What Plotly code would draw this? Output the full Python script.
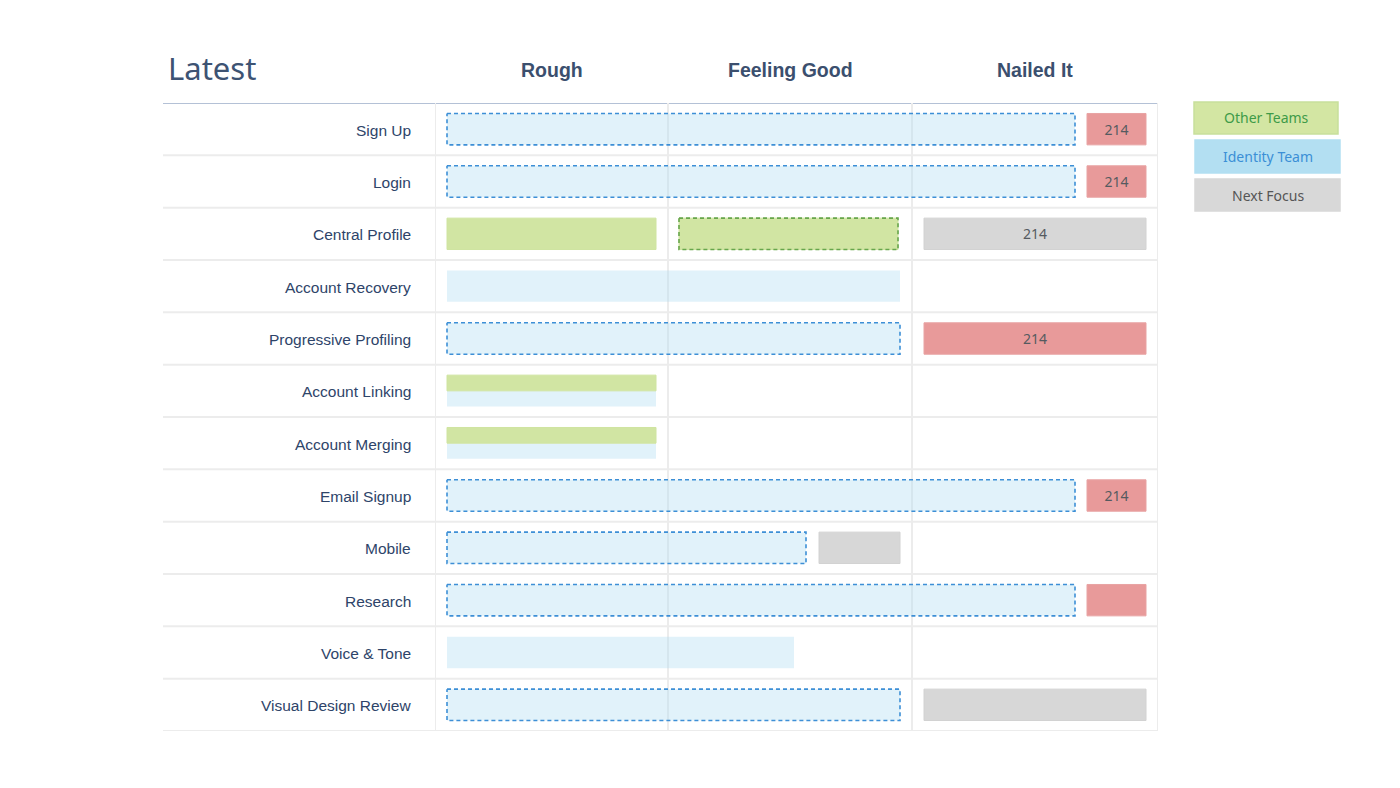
import plotly.graph_objects as go

W, H = 1400, 788

# ---------------- data ----------------
title_text = "Latest"
stages = ["Rough", "Feeling Good", "Nailed It"]
stage_bounds = [0, 233, 477, 723]          # progress scale, column boundaries

rows = ["Sign Up", "Login", "Central Profile", "Account Recovery",
        "Progressive Profiling", "Account Linking", "Account Merging",
        "Email Signup", "Mobile", "Research", "Voice & Tone",
        "Visual Design Review"]

# one entry per bar segment
seg_row    = [0, 0, 1, 1, 2, 2, 2, 3, 4, 4, 5, 5, 6, 6, 7, 7, 8, 8, 9, 9, 10, 11, 11]
seg_start  = [12, 652, 12, 652, 12, 244, 489, 12, 12, 489, 12, 12, 12, 12, 12, 652, 12, 384, 12, 652, 12, 12, 489]
seg_end    = [640, 711, 640, 711, 221, 463, 711, 465, 465, 711, 221, 221, 221, 221, 640, 711, 371, 465, 640, 711, 359, 465, 711]
seg_team   = ["identity", "alert", "identity", "alert", "other", "other", "next", "identity",
              "identity", "alert", "other", "identity", "other", "identity", "identity", "alert",
              "identity", "next", "identity", "alert", "identity", "identity", "next"]
seg_dashed = [True, False, True, False, False, True, False, False, True, False, False, False,
              False, False, True, False, True, False, True, False, False, True, False]
seg_lane   = ["full", "full", "full", "full", "full", "full", "full", "full", "full", "full",
              "top", "bottom", "top", "bottom", "full", "full", "full", "full", "full", "full",
              "full", "full", "full"]
seg_text   = ["", "214", "", "214", "", "", "214", "", "", "214", "", "", "", "", "", "214",
              "", "", "", "", "", "", ""]

legend_labels = ["Other Teams", "Identity Team", "Next Focus"]

# ---------------- styles ----------------
fill = {"identity": "rgba(179,223,242,0.40)", "other": "#d1e5a3",
        "next": "#d7d7d7", "alert": "#e89a9a"}
edge = {"identity": "rgba(0,0,0,0)", "other": "#cfe4a0",
        "next": "#d2d2d2", "alert": "#e8a3a3"}
dash_col = {"identity": "#3d8fd6", "other": "#67a64c"}
legend_fill = ["#d3e6a3", "#b3dff2", "#d8d8d8"]
legend_edge = ["#c8e09c", "#b3dff2", "#d8d8d8"]
legend_font = ["#3e9b48", "#3b8fd6", "#555555"]

# plot geometry (pixels)
px_left, px_right, px_top, px_bot = 435, 1158, 103, 731
label_left = 163

def pxx(p):
    return p / W

def pxy(p):
    return (H - p) / H

FULL_H, HALF_H = 0.6, 0.3

def lane_geom(row, lane):
    c = row + 0.5
    if lane == "top":
        return c - HALF_H / 2, HALF_H
    if lane == "bottom":
        return c + HALF_H / 2, HALF_H
    return c, FULL_H

fig = go.Figure()

# bars
for team in ["identity", "other", "next", "alert"]:
    ys, xs, bases, widths, texts = [], [], [], [], []
    for i in range(len(seg_row)):
        if seg_team[i] != team:
            continue
        yc, hh = lane_geom(seg_row[i], seg_lane[i])
        ys.append(yc)
        bases.append(seg_start[i])
        xs.append(seg_end[i] - seg_start[i])
        widths.append(hh)
        texts.append(seg_text[i])
    fig.add_trace(go.Bar(
        orientation="h", y=ys, x=xs, base=bases, width=widths,
        marker=dict(color=fill[team], line=dict(color=edge[team], width=1)),
        text=texts, textposition="inside", insidetextanchor="middle",
        textangle=0, constraintext="none",
        textfont=dict(family="Noto Sans", size=14, color="#555a60"),
        hoverinfo="skip", showlegend=False))

# dashed outlines
for i in range(len(seg_row)):
    if not seg_dashed[i]:
        continue
    yc, hh = lane_geom(seg_row[i], seg_lane[i])
    t, b = yc - hh / 2, yc + hh / 2
    s, e = seg_start[i], seg_end[i]
    fig.add_trace(go.Scatter(
        x=[s, e, e, s, s], y=[t, t, b, b, t], mode="lines",
        line=dict(color=dash_col[seg_team[i]], width=1.6, dash="4px,3px"),
        hoverinfo="skip", showlegend=False))

shapes = []
# horizontal row lines
for r in range(1, len(rows) + 1):
    shapes.append(dict(type="line", xref="paper", yref="y",
                       x0=pxx(label_left), x1=pxx(px_right), y0=r, y1=r,
                       line=dict(color="#ececec", width=2), layer="below"))
# header line
shapes.append(dict(type="line", xref="paper", yref="y",
                   x0=pxx(label_left), x1=pxx(px_right), y0=0, y1=0,
                   line=dict(color="#b4c1d6", width=2), layer="below"))
# vertical stage lines
for xb in stage_bounds:
    shapes.append(dict(type="line", xref="x", yref="y",
                       x0=xb, x1=xb, y0=0, y1=len(rows),
                       line=dict(color="#ececec", width=2), layer="below"))

annotations = []
annotations.append(dict(text=title_text, xref="paper", yref="paper",
                        x=pxx(166), y=pxy(68), xanchor="left", yanchor="middle",
                        showarrow=False,
                        font=dict(family="Noto Sans", size=31, color="#3d5373")))
for k, st in enumerate(stages):
    annotations.append(dict(text="<b>%s</b>" % st, xref="x", yref="paper",
                            x=(stage_bounds[k] + stage_bounds[k + 1]) / 2,
                            y=pxy(70), xanchor="center", yanchor="middle",
                            showarrow=False,
                            font=dict(family="Liberation Sans", size=19.5, color="#3b4f6e")))
for r, lab in enumerate(rows):
    annotations.append(dict(text=lab, xref="paper", yref="y",
                            x=pxx(413), y=r + 0.5, yshift=-1,
                            xanchor="right", yanchor="middle", showarrow=False,
                            font=dict(family="Liberation Sans", size=15.5, color="#2e4469")))

# legend boxes
leg_boxes = [(1194, 1338, 102, 134), (1195, 1340, 140, 173), (1195, 1340, 179, 211)]
for k, lab in enumerate(legend_labels):
    x0, x1, y0, y1 = leg_boxes[k]
    shapes.append(dict(type="rect", xref="paper", yref="paper",
                       x0=pxx(x0), x1=pxx(x1), y0=pxy(y1), y1=pxy(y0),
                       fillcolor=legend_fill[k],
                       line=dict(color=legend_edge[k], width=1.5)))
    annotations.append(dict(text=lab, xref="paper", yref="paper",
                            x=pxx((x0 + x1) / 2), y=pxy((y0 + y1) / 2),
                            xanchor="center", yanchor="middle", showarrow=False,
                            font=dict(family="Noto Sans", size=14, color=legend_font[k])))

fig.update_layout(
    width=W, height=H,
    margin=dict(l=0, r=0, t=0, b=0),
    paper_bgcolor="white", plot_bgcolor="white",
    barmode="overlay", showlegend=False,
    xaxis=dict(domain=[pxx(px_left), pxx(px_right)], range=[0, stage_bounds[-1]],
               visible=False, fixedrange=True),
    yaxis=dict(domain=[pxy(px_bot), pxy(px_top)], range=[len(rows), 0],
               visible=False, fixedrange=True),
    shapes=shapes, annotations=annotations,
)

fig.write_html("out.html", config={"displayModeBar": False},
               post_script="document.body.style.margin='0px';document.body.style.overflow='hidden';")
